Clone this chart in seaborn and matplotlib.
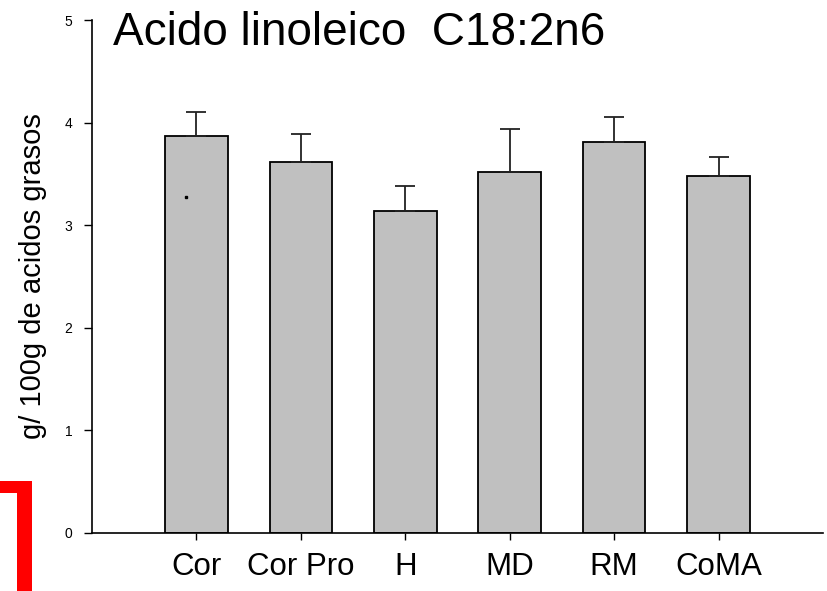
import matplotlib
matplotlib.use("Agg")
import matplotlib.pyplot as plt
from matplotlib.patches import Polygon
import seaborn as sns
import pandas as pd

categories = ["Cor", "Cor Pro", "H", "MD", "RM", "CoMA"]
means = [3.87, 3.62, 3.14, 3.52, 3.81, 3.48]
errors = [0.23, 0.27, 0.24, 0.42, 0.24, 0.18]
y_ticks = [0, 1, 2, 3, 4, 5]
title_text = "Acido linoleico  C18:2n6"
ylabel_text = "g/ 100g de acidos grasos"
stray_dot = (-0.1, 3.27)

sns.set_style("ticks")
plt.rcParams["font.family"] = ["Liberation Sans", "DejaVu Sans"]

W, H = 827, 591
fig = plt.figure(figsize=(W / 100, H / 100), dpi=100)
ax = fig.add_axes([92 / W, 1 - 533 / H, (823 - 92) / W, (533 - 20) / H])

df = pd.DataFrame({"cat": categories, "val": means})
sns.barplot(data=df, x="cat", y="val", order=categories, color="#c0c0c0",
            width=0.6, edgecolor="black", linewidth=1.3, saturation=1,
            errorbar=None, ax=ax)
for p in ax.patches:
    p.set_facecolor("#c0c0c0")

xpos = list(range(len(categories)))
ax.errorbar(xpos, means, yerr=[[0] * len(means), errors], fmt="none",
            ecolor="#222222", elinewidth=1.3, capsize=7.5, capthick=1.3,
            zorder=1)

ax.plot([stray_dot[0]], [stray_dot[1]], marker="s", ms=1.6, color="black",
        linestyle="none")

ax.set_xlim(-1, 6)
ax.set_ylim(0, 5)
ax.set_yticks(y_ticks)
ax.set_yticklabels([str(t) for t in y_ticks])
ax.set_xlabel("")
ax.set_ylabel("")
for s in ["top", "right"]:
    ax.spines[s].set_visible(False)
for s in ["left", "bottom"]:
    ax.spines[s].set_linewidth(1.2)
    ax.spines[s].set_color("black")
ax.tick_params(axis="x", direction="out", length=5, width=1, labelsize=22.5,
               pad=9, colors="black")
ax.tick_params(axis="y", direction="out", length=6, width=1, labelsize=10,
               pad=8, colors="black")

fig.text(113 / W, 1 - 45 / H, title_text, fontsize=33, ha="left",
         va="baseline", color="black")
fig.text(33 / W, 1 - 276 / H, ylabel_text, fontsize=21, rotation=90,
         ha="center", va="center", color="black")

pts = [(0, 481), (32, 481), (32, 591), (17, 591), (17, 493), (0, 493)]
poly = Polygon([(x / W, 1 - y / H) for x, y in pts], closed=True,
               facecolor="#ff0000", edgecolor="none",
               transform=fig.transFigure)
fig.add_artist(poly)

fig.savefig("out.png", dpi=100)
